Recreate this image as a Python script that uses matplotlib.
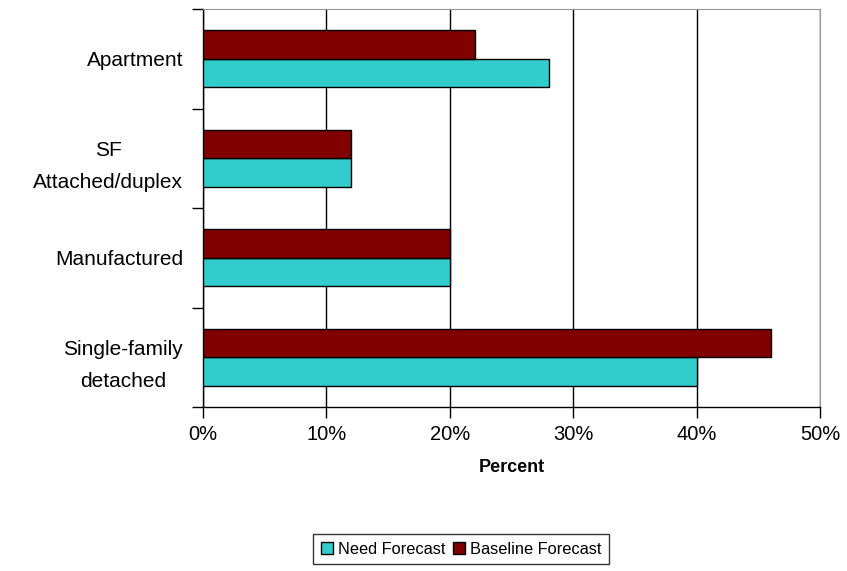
import numpy as np
import matplotlib.pyplot as plt
from matplotlib.ticker import FixedLocator, PercentFormatter

plt.rcParams['font.family'] = ['Liberation Sans', 'DejaVu Sans']

categories = ['Single-family\ndetached', 'Manufactured', 'SF\nAttached/duplex', 'Apartment']
need_forecast = [40, 20, 12, 28]
baseline_forecast = [46, 20, 12, 22]

fig = plt.figure(figsize=(8.47, 5.71), dpi=100)
ax = fig.add_axes([0.2397, 0.2872, 0.7287, 0.6968])

y = np.arange(len(categories))
h = 0.287
ax.barh(y - h / 2, need_forecast, height=h, color='#33CCCC', edgecolor='black',
        linewidth=1, label='Need Forecast', zorder=3)
ax.barh(y + h / 2, baseline_forecast, height=h, color='#800000', edgecolor='black',
        linewidth=1, label='Baseline Forecast', zorder=3)

ax.set_xlim(0, 50)
ax.set_ylim(-0.5, len(categories) - 0.5)
ax.set_xticks(np.arange(0, 51, 10))
ax.xaxis.set_major_formatter(PercentFormatter(decimals=0))
ax.grid(axis='x', color='black', linewidth=1, zorder=0)

# category labels centred on the bars, ticks at the boundaries
ax.yaxis.set_major_locator(FixedLocator(np.arange(-0.5, len(categories), 1)))
ax.yaxis.set_minor_locator(FixedLocator(y))
ax.set_yticklabels([])
ax.set_yticklabels(categories, minor=True, ha='right', multialignment='center',
                   fontsize=15, linespacing=1.85)
ax.tick_params(axis='y', which='minor', length=0, pad=14.4)
ax.tick_params(axis='y', which='major', length=8, width=1, direction='out')
ax.tick_params(axis='x', length=8, width=1, direction='out', labelsize=14.5, pad=5)

for s in ['top', 'right']:
    ax.spines[s].set_color('#999999')
for s in ['left', 'bottom']:
    ax.spines[s].set_color('black')
    ax.spines[s].set_linewidth(1)

ax.set_xlabel('Percent', fontsize=13, fontweight='bold', labelpad=11)

handles, labels = ax.get_legend_handles_labels()
leg = fig.legend(handles, labels, loc='center', bbox_to_anchor=(461 / 847, 1 - 549 / 571),
                 ncol=2, frameon=True, fancybox=False, edgecolor='black', fontsize=11.8,
                 handlelength=0.75, handleheight=0.75, handletextpad=0.3, columnspacing=0.45,
                 borderpad=0.45)
leg.get_frame().set_linewidth(1)

fig.savefig('out.png', dpi=100)
